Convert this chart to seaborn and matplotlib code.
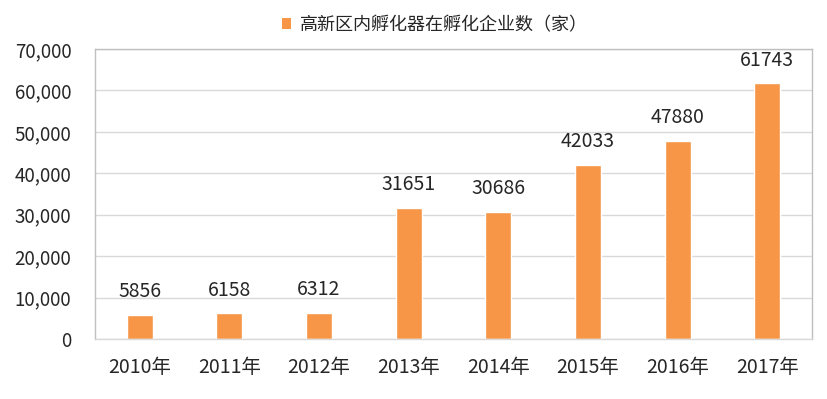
import matplotlib
matplotlib.use("Agg")
import matplotlib.pyplot as plt
import matplotlib.ticker as mticker
from matplotlib.patches import Patch
import seaborn as sns
import pandas as pd

years = ["2010年", "2011年", "2012年", "2013年", "2014年", "2015年", "2016年", "2017年"]
values = [5856, 6158, 6312, 31651, 30686, 42033, 47880, 61743]
series_name = "高新区内孵化器在孵化企业数（家）"
yticks = [0, 10000, 20000, 30000, 40000, 50000, 60000, 70000]

sns.set_theme(style="white")
plt.rcParams['font.family'] = ['Noto Sans CJK SC', 'DejaVu Sans']

bar_color = "#F79646"
text_color = "#262626"

df = pd.DataFrame({"year": years, "value": values})

fig = plt.figure(figsize=(8.28, 3.99), dpi=100)
ax = fig.add_axes([95/828, 1 - 339/399, (812-95)/828, (339-49)/399])

sns.barplot(data=df, x="year", y="value", color=bar_color, width=0.29,
            saturation=1, ax=ax)

ax.set_ylim(0, 70000)
ax.set_xlim(-0.5, len(years) - 0.5)
ax.set_yticks(yticks)
ax.yaxis.set_major_formatter(mticker.FuncFormatter(lambda v, p: f"{int(v):,}"))
ax.set_xlabel("")
ax.set_ylabel("")

ax.grid(axis="y", color="#D9D9D9", linewidth=1)
ax.set_axisbelow(True)
for s in ["left", "top", "right"]:
    ax.spines[s].set_color("#BFBFBF")
    ax.spines[s].set_linewidth(1)
ax.spines["bottom"].set_color("#D9D9D9")
ax.spines["bottom"].set_linewidth(1)

ax.tick_params(axis="y", length=0, pad=17, labelsize=13.5, labelcolor=text_color)
ax.tick_params(axis="x", which="major", length=0, pad=13, labelsize=14, labelcolor=text_color)
ax.set_xticks([i + 0.5 for i in range(-1, len(years))], minor=True)
ax.tick_params(axis="x", which="minor", length=6, color="#D9D9D9", width=1, direction="out")

for i, v in enumerate(values):
    ax.annotate(str(v), xy=(i, v), xytext=(0, 9), textcoords="offset points",
                ha="center", va="bottom", fontsize=14, color=text_color)

handle = Patch(facecolor=bar_color, edgecolor="none")
fig.legend([handle], [series_name], loc="center", bbox_to_anchor=(435/828, 1 - 25/399),
           frameon=False, fontsize=13, handlelength=0.55, handleheight=0.55,
           handletextpad=0.5, labelcolor=text_color)

fig.savefig("out.png", dpi=100)
